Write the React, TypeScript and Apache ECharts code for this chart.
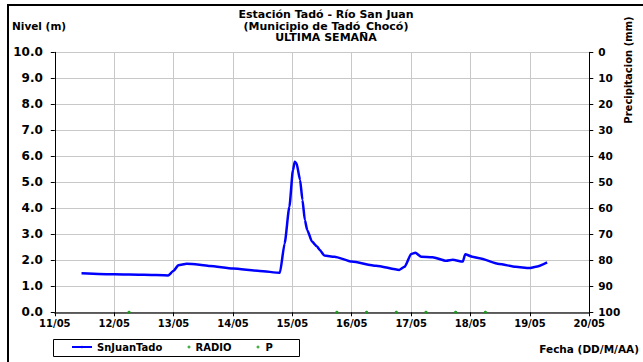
import React, { useEffect, useRef } from "react";
import * as echarts from "echarts";

const titleLines = ["Estación Tadó - Río San Juan", "(Municipio de Tadó_Chocó)", "ULTIMA SEMANA"];
const dayTicks = [11, 12, 13, 14, 15, 16, 17, 18, 19, 20];
const monthLabel = "05";
const levelTimes = [
  11.45, 12.0, 12.5, 12.91, 13.0, 13.08, 13.22, 13.4, 13.61, 14.0, 14.45, 14.79, 14.87, 14.95,
  15.01, 15.04, 15.07, 15.13, 15.17, 15.21, 15.25, 15.33, 15.42, 15.46, 15.54, 15.71, 16.0,
  16.41, 16.8, 16.89, 17.0, 17.07, 17.17, 17.36, 17.59, 17.7, 17.87, 17.91, 18.03, 18.15,
  18.48, 18.76, 18.99, 19.1, 19.29,
];
const levelValues = [
  1.5, 1.46, 1.44, 1.42, 1.6, 1.81, 1.87, 1.84, 1.78, 1.68, 1.59, 1.52, 2.65, 4.06,
  5.47, 5.79, 5.73, 5.09, 4.32, 3.55, 3.17, 2.72, 2.52, 2.4, 2.18, 2.14, 1.95,
  1.79, 1.63, 1.75, 2.24, 2.29, 2.14, 2.12, 1.98, 2.02, 1.95, 2.23, 2.14, 2.08,
  1.86, 1.75, 1.7, 1.75, 1.92,
];
const radioTimes = [12.25, 15.75, 16.25, 16.75, 17.25, 17.75, 18.25];
const radioValues = [0, 0, 0, 0, 0, 0, 0];
const pTimes = [12.25, 15.75, 16.25, 16.75, 17.25, 17.75, 18.25];
const pValues = [0, 0, 0, 0, 0, 0, 0];

const FONT = "'DejaVu Sans', Verdana, sans-serif";

export default function App() {
  const ref = useRef<HTMLDivElement>(null);
  useEffect(() => {
    if (!ref.current) return;
    const chart = echarts.init(ref.current, null, { renderer: "svg" });
    const level = levelTimes.map((t, i) => [t, levelValues[i]]);
    const radio = radioTimes.map((t, i) => [t, radioValues[i]]);
    const p = pTimes.map((t, i) => [t, pValues[i]]);
    const labelStyle = { color: "#000", fontWeight: "bold" as const, fontFamily: FONT };
    const legendText = { color: "#000", fontWeight: "bold" as const, fontSize: 10, fontFamily: FONT };
    chart.setOption({
      animation: false,
      backgroundColor: "#fff",
      textStyle: { fontFamily: FONT },
      title: {
        text: titleLines.join("\n"),
        left: 321,
        top: 4,
        textAlign: "center",
        textStyle: { fontSize: 11, fontWeight: "bold", color: "#000", lineHeight: 11.5, fontFamily: FONT },
      },
      grid: { left: 54.8, right: 53.7, top: 52.3, bottom: 49.7, containLabel: false },
      xAxis: {
        type: "value",
        min: dayTicks[0],
        max: dayTicks[dayTicks.length - 1],
        interval: 1,
        axisLine: { show: true, lineStyle: { color: "#333", width: 1.5 } },
        axisTick: { show: true, length: 4, lineStyle: { color: "#000" } },
        axisLabel: { ...labelStyle, fontSize: 10, margin: 6, formatter: (v: number) => `${v}/${monthLabel}` },
        splitLine: { show: true, lineStyle: { color: "#c8c8c8", width: 1 } },
      },
      yAxis: [
        {
          type: "value",
          min: 0,
          max: 10,
          interval: 1,
          axisLine: { show: true, lineStyle: { color: "#000", width: 1 } },
          axisTick: { show: true, length: 4, lineStyle: { color: "#000" } },
          axisLabel: { ...labelStyle, fontSize: 12, margin: 12, formatter: (v: number) => v.toFixed(1) },
          splitLine: { show: true, lineStyle: { color: "#c8c8c8", width: 1 } },
        },
        {
          type: "value",
          position: "right",
          inverse: true,
          min: 0,
          max: 100,
          interval: 10,
          axisLine: { show: true, lineStyle: { color: "#000", width: 1 } },
          axisTick: { show: true, length: 4, lineStyle: { color: "#000" } },
          axisLabel: { ...labelStyle, fontSize: 10.5, margin: 9 },
          splitLine: { show: false },
        },
      ],
      legend: [
        {
          left: 71,
          top: 342,
          itemWidth: 20,
          itemHeight: 3,
          padding: 0,
          textStyle: legendText,
          data: [{ name: "SnJuanTado" }],
        },
        {
          left: 187.5,
          top: 342,
          itemWidth: 3,
          itemHeight: 3,
          padding: 0,
          textStyle: legendText,
          data: [{ name: "RADIO", icon: "circle" }],
        },
        {
          left: 256.5,
          top: 342,
          itemWidth: 5,
          itemHeight: 3,
          padding: 0,
          textStyle: legendText,
          data: [{ name: "P", icon: "circle" }],
        },
      ],
      graphic: [
        {
          type: "rect",
          shape: { x: 8, y: 5, width: 700, height: 400 },
          style: { fill: "none", stroke: "#000", lineWidth: 2 },
          silent: true,
        },
        {
          type: "rect",
          shape: { x: 53.5, y: 339.5, width: 246, height: 17 },
          style: { fill: "none", stroke: "#000", lineWidth: 1 },
          silent: true,
        },
        {
          type: "text",
          x: 12,
          y: 26,
          style: { text: "Nivel (m)", fill: "#000", font: `bold 10.5px ${FONT}`, textVerticalAlign: "middle" },
        },
        {
          type: "text",
          x: 639,
          y: 349,
          style: { text: "Fecha (DD/M/AA)", fill: "#000", font: `bold 10.5px ${FONT}`, textAlign: "right", textVerticalAlign: "middle" },
        },
        {
          type: "text",
          x: 628,
          y: 70,
          rotation: Math.PI / 2,
          style: { text: "Precipitacion (mm)", fill: "#000", font: `bold 10px ${FONT}`, textAlign: "center", textVerticalAlign: "middle" },
        },
      ],
      series: [
        {
          name: "SnJuanTado",
          type: "line",
          data: level,
          symbol: "none",
          smooth: 0.2,
          smoothMonotone: "x",
          lineStyle: { color: "#0000ff", width: 2.5 },
          itemStyle: { color: "#0000ff" },
          yAxisIndex: 0,
        },
        {
          name: "RADIO",
          type: "scatter",
          data: radio,
          symbol: "circle",
          symbolSize: 3,
          itemStyle: { color: "#1a9a1a" },
          yAxisIndex: 0,
        },
        {
          name: "P",
          type: "scatter",
          data: p,
          symbol: "circle",
          symbolSize: 3,
          itemStyle: { color: "#1a9a1a" },
          yAxisIndex: 0,
        },
      ],
    });
    return () => chart.dispose();
  }, []);
  return <div ref={ref} style={{ position: "fixed", left: 0, top: 0, width: 643, height: 362 }} />;
}
